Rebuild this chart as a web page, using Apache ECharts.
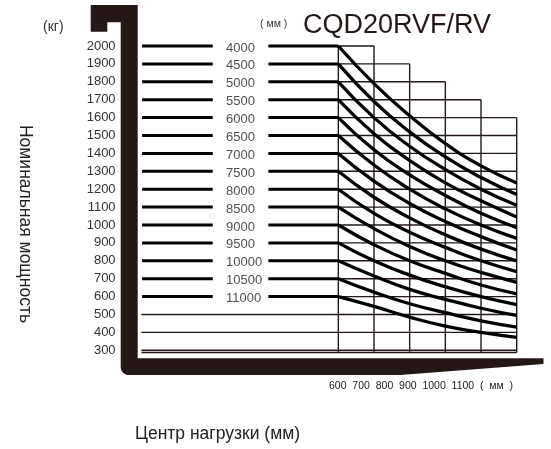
<!DOCTYPE html>
<html><head><meta charset="utf-8">
<script src="https://cdn.jsdelivr.net/npm/echarts@6/dist/echarts.min.js"></script>
<style>html,body{margin:0;padding:0;background:#fff}#c{width:551px;height:449px}</style>
</head><body><div id="c"></div>
<script>
// ---- data ----
const loadCenters = [600, 700, 800, 900, 1000, 1100];          // mm
const xTickLabels = ['600', '700', '800', '900', '1000', '1100'];
const liftHeights = ['4000', '4500', '5000', '5500', '6000', '6500', '7000', '7500',
                     '8000', '8500', '9000', '9500', '10000', '10500', '11000'];
const ratedCaps = [2000, 1900, 1800, 1700, 1600, 1500, 1400, 1300, 1200, 1100, 1000, 900, 800, 700, 600];
const columnTops = [2000, 1900, 1800, 1700, 1600];               // box top for 600-700 ... 1000-1100
const lowerLevels = [500, 400, 300];

const curve4000  = [2000, 1790, 1610, 1455, 1330, 1235];
const curve4500  = [1900, 1690, 1520, 1380, 1265, 1170];
const curve5000  = [1800, 1600, 1440, 1310, 1200, 1110];
const curve5500  = [1700, 1510, 1360, 1235, 1135, 1045];
const curve6000  = [1600, 1420, 1280, 1165, 1065, 985];
const curve6500  = [1500, 1335, 1200, 1090, 1000, 925];
const curve7000  = [1400, 1245, 1120, 1020, 935, 860];
const curve7500  = [1300, 1155, 1040, 945, 865, 800];
const curve8000  = [1200, 1065, 960, 875, 800, 740];
const curve8500  = [1100, 980, 880, 800, 735, 680];
const curve9000  = [1000, 890, 800, 730, 665, 615];
const curve9500  = [900, 800, 720, 655, 600, 555];
const curve10000 = [800, 715, 640, 585, 535, 495];
const curve10500 = [700, 625, 560, 510, 465, 430];
const curve11000 = [600, 545, 485, 435, 400, 372];
const curves = [curve4000, curve4500, curve5000, curve5500, curve6000, curve6500, curve7000,
                curve7500, curve8000, curve8500, curve9000, curve9500, curve10000, curve10500, curve11000];

// ---- layout constants (x axis value space, not data) ----
const X_MIN = 50, X_MAX = 1100, Y_MIN = 300, Y_MAX = 2000;
const SEG1_END = 248, SEG2_START = 404, LABEL_X = 291;
const INK = '#231815';
const FONT = "'Liberation Sans', Arial, Helvetica, sans-serif";

// thin grid (staircase box + lower full-width lines)
const gridData = [];
const nCols = columnTops.length;
for (let i = 0; i < loadCenters.length; i++) {
  const left = i > 0 ? columnTops[i - 1] : -Infinity;
  const right = i < nCols ? columnTops[i] : -Infinity;
  gridData.push([loadCenters[i], 288], [loadCenters[i], Math.max(left, right)], null);
}
for (let L = Y_MAX; L >= 600; L -= 100) {
  let xEnd = loadCenters[0];
  for (let i = 0; i < nCols; i++) if (columnTops[i] >= L) xEnd = loadCenters[i + 1];
  gridData.push([loadCenters[0], L], [xEnd, L], null);
}
lowerLevels.forEach(L => gridData.push([X_MIN - 2, L], [X_MAX, L], null));
gridData.push([X_MIN - 2, 288], [X_MAX, 288], null);

// thick capacity lines at left
const capLines = [];
ratedCaps.forEach(c => capLines.push([X_MIN, c], [SEG1_END, c], null, [SEG2_START, c], [loadCenters[0], c], null));

const series = [
  { type: 'line', data: gridData, symbol: 'none', clip: false, silent: true, z: 2,
    lineStyle: { color: INK, width: 1.4 }, connectNulls: false },
  { type: 'line', data: capLines, symbol: 'none', clip: false, silent: true, z: 3,
    lineStyle: { color: '#000', width: 3 }, connectNulls: false },
  { type: 'scatter', data: ratedCaps.map((c, i) => ({ value: [LABEL_X, c], name: liftHeights[i] })),
    symbolSize: 0, silent: true, z: 4,
    label: { show: true, position: 'right', distance: 0, offset: [-2, 2], formatter: p => p.name,
             color: '#222', fontSize: 13, fontFamily: FONT } }
];
curves.forEach((cv, k) => series.push({
  type: 'line', name: liftHeights[k], data: cv.map((v, i) => [loadCenters[i], v]),
  smooth: 0.5, symbol: 'none', clip: false, silent: true, z: 5,
  lineStyle: { color: '#000', width: 3.3 }
}));

// decorative fork frame
const framePts = [[90.7, 5], [137.7, 5], [137.7, 358.3], [543.5, 358.3], [543.5, 364], [400, 375], [128.7, 375]];
for (let a = 90; a <= 180; a += 10) {
  const t = a * Math.PI / 180;
  framePts.push([128.7 + 8 * Math.cos(t), 367 + 8 * Math.sin(t)]);
}
framePts.push([120.7, 22.3], [107.3, 22.3], [107.3, 31.7], [90.7, 31.7]);

const chart = echarts.init(document.getElementById('c'), null, { renderer: 'canvas' });
chart.setOption({
  animation: false,
  backgroundColor: '#fff',
  grid: { left: 142.1, right: 34.3, top: 46, bottom: 98.7 },
  xAxis: { type: 'value', min: X_MIN, max: X_MAX, show: false },
  yAxis: { type: 'value', min: Y_MIN, max: Y_MAX, interval: 100,
    axisLine: { show: false }, axisTick: { show: false }, splitLine: { show: false },
    axisLabel: { margin: 26.5, color: '#333', fontSize: 13, fontFamily: FONT, padding: [8, 0, 0, 0],
                 formatter: v => String(v) } },
  series: series,
  graphic: [
    { type: 'polygon', z: 10, shape: { points: framePts }, style: { fill: INK } },
    { type: 'text', x: 43, y: 27.5, style: { text: '(кг)', fontSize: 14, fill: '#333', fontFamily: FONT, verticalAlign: 'middle' } },
    { type: 'text', x: 260, y: 24.5, style: { text: '( мм )', fontSize: 10.5, fill: '#333', fontFamily: FONT, verticalAlign: 'middle' } },
    { type: 'text', x: 303, y: 26, style: { text: 'CQD20RVF/RV', fontSize: 27, fill: INK, fontFamily: FONT, verticalAlign: 'middle' } },
    { type: 'text', x: 329, y: 386, style: { text: xTickLabels.join('  ') + '  (  мм  )', fontSize: 10.5, fill: '#222', fontFamily: FONT, verticalAlign: 'middle' } },
    { type: 'text', x: 217.5, y: 434.5, style: { text: 'Центр нагрузки (мм)', fontSize: 17.5, fill: '#222', fontFamily: FONT, align: 'center', verticalAlign: 'middle' } },
    { type: 'text', x: 25, y: 224, rotation: -Math.PI / 2, style: { text: 'Номинальная мощность', fontSize: 17.5, fill: '#222', fontFamily: FONT, align: 'center', verticalAlign: 'middle' } }
  ]
});
</script></body></html>
